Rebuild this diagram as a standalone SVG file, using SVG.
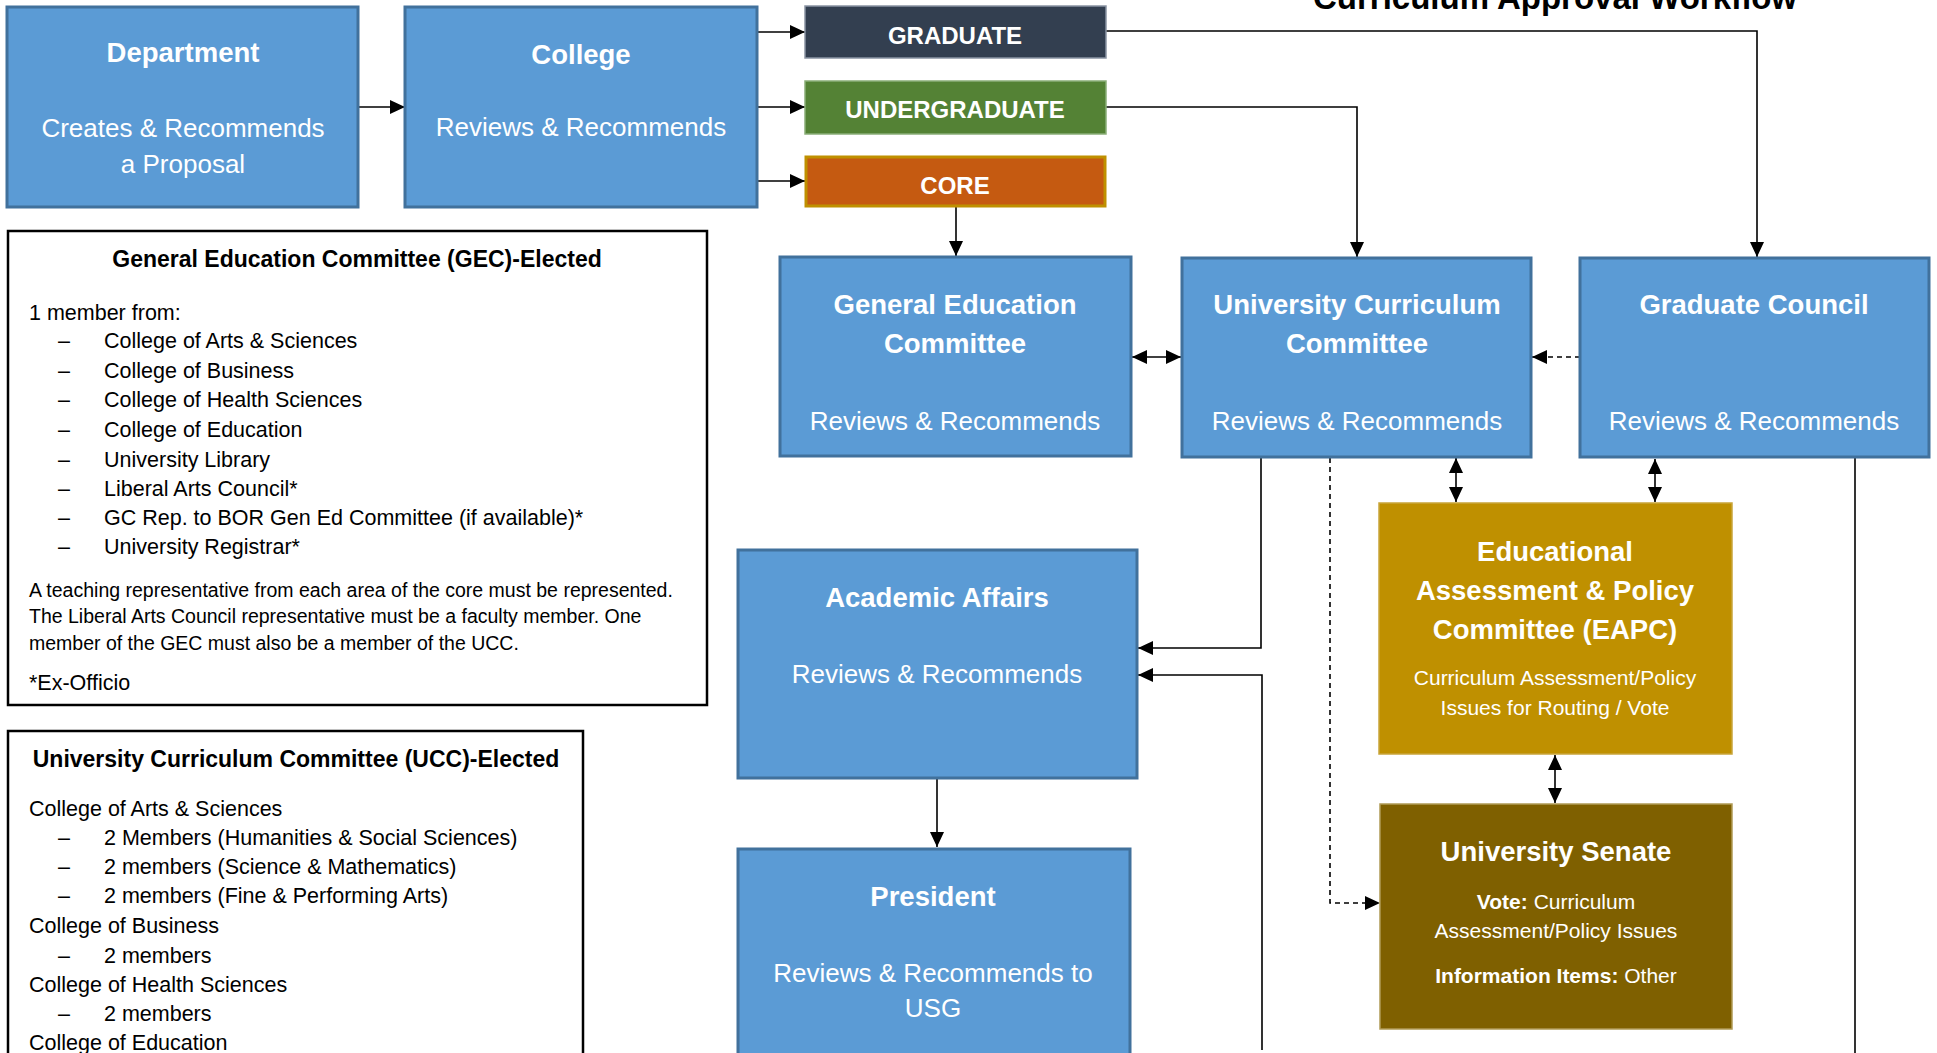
<svg xmlns="http://www.w3.org/2000/svg" width="1937" height="1053" viewBox="0 0 1937 1053">
<defs>
<marker id="ah" viewBox="0 0 15 14" refX="15" refY="7" markerWidth="15" markerHeight="14" markerUnits="userSpaceOnUse" orient="auto-start-reverse">
<path d="M0,0 L15,7 L0,14 z" fill="#000"/>
</marker>
<style>
text{font-family:'Liberation Sans',Arial,sans-serif}
.blue{fill:#5B9BD5;stroke:#41719C;stroke-width:3}
.hd{font-weight:bold;font-size:27.5px;fill:#fff;text-anchor:middle}
.bd{font-size:26px;fill:#fff;text-anchor:middle}
.sm{font-size:21px;fill:#fff;text-anchor:middle}
.tag{font-weight:bold;font-size:24px;fill:#fff;text-anchor:middle}
.txtbox{fill:#fff;stroke:#000;stroke-width:2.5}
.t{font-size:21.5px;fill:#000}
.tp{font-size:19.5px;fill:#000}
.tt{font-weight:bold;font-size:23px;fill:#000;text-anchor:middle}
.ln{fill:none;stroke:#000;stroke-width:1.6}
.dash{fill:none;stroke:#000;stroke-width:1.6;stroke-dasharray:5 4}
</style>
</defs>
<rect width="1937" height="1053" fill="#fff"/>

<text x="1555" y="9" style="font-weight:bold;font-size:33px;fill:#000;text-anchor:middle">Curriculum Approval Workflow</text>

<g id="connectors">
<line class="ln" x1="358" y1="107" x2="405" y2="107" marker-end="url(#ah)"/>
<line class="ln" x1="757" y1="32" x2="805" y2="32" marker-end="url(#ah)"/>
<line class="ln" x1="757" y1="107" x2="805" y2="107" marker-end="url(#ah)"/>
<line class="ln" x1="757" y1="181" x2="805" y2="181" marker-end="url(#ah)"/>
<polyline class="ln" points="1106,31 1757,31 1757,257" marker-end="url(#ah)"/>
<polyline class="ln" points="1106,107 1357,107 1357,257" marker-end="url(#ah)"/>
<line class="ln" x1="956" y1="207" x2="956" y2="256" marker-end="url(#ah)"/>
<line class="ln" x1="1132" y1="357" x2="1181" y2="357" marker-start="url(#ah)" marker-end="url(#ah)"/>
<line class="dash" x1="1580" y1="357" x2="1532" y2="357" marker-end="url(#ah)"/>
<polyline class="ln" points="1261,457 1261,648 1138,648" marker-end="url(#ah)"/>
<polyline class="ln" points="1262,1050 1262,675 1138,675" marker-end="url(#ah)"/>
<polyline class="dash" points="1330,458 1330,903 1380,903" marker-end="url(#ah)"/>
<line class="ln" x1="1456" y1="458" x2="1456" y2="502" marker-start="url(#ah)" marker-end="url(#ah)"/>
<line class="ln" x1="1655" y1="459" x2="1655" y2="502" marker-start="url(#ah)" marker-end="url(#ah)"/>
<line class="ln" x1="1555" y1="755" x2="1555" y2="803" marker-start="url(#ah)" marker-end="url(#ah)"/>
<line class="ln" x1="937" y1="776" x2="937" y2="847" marker-end="url(#ah)"/>
<line class="ln" x1="1855" y1="458" x2="1855" y2="1053"/>
</g>

<g id="department">
<rect class="blue" x="7" y="7" width="351" height="200"/>
<text class="hd" x="183" y="62">Department</text>
<text class="bd" x="183" y="137">Creates &amp; Recommends</text>
<text class="bd" x="183" y="173">a Proposal</text>
</g>

<g id="college">
<rect class="blue" x="405" y="7" width="352" height="200"/>
<text class="hd" x="581" y="64">College</text>
<text class="bd" x="581" y="136">Reviews &amp; Recommends</text>
</g>

<g id="graduate">
<rect x="805" y="6" width="301" height="52" fill="#333F50" stroke="#8A94A3" stroke-width="1.5"/>
<text class="tag" x="955" y="44">GRADUATE</text>
</g>
<g id="undergraduate">
<rect x="805" y="81" width="301" height="53" fill="#548235" stroke="#8AAE78" stroke-width="1.5"/>
<text class="tag" x="955" y="118">UNDERGRADUATE</text>
</g>
<g id="core">
<rect x="806" y="157" width="299" height="49" fill="#C55A11" stroke="#BF9000" stroke-width="3"/>
<text class="tag" x="955" y="194">CORE</text>
</g>

<g id="gec">
<rect class="blue" x="780" y="257" width="351" height="199"/>
<text class="hd" x="955" y="314">General Education</text>
<text class="hd" x="955" y="353">Committee</text>
<text class="bd" x="955" y="430">Reviews &amp; Recommends</text>
</g>

<g id="ucc">
<rect class="blue" x="1182" y="258" width="349" height="199"/>
<text class="hd" x="1357" y="314">University Curriculum</text>
<text class="hd" x="1357" y="353">Committee</text>
<text class="bd" x="1357" y="430">Reviews &amp; Recommends</text>
</g>

<g id="graduate-council">
<rect class="blue" x="1580" y="258" width="349" height="199"/>
<text class="hd" x="1754" y="314">Graduate Council</text>
<text class="bd" x="1754" y="430">Reviews &amp; Recommends</text>
</g>

<g id="eapc">
<rect x="1379" y="503" width="353" height="251" fill="#BF9000" stroke="#C9A53A" stroke-width="1.5"/>
<text class="hd" x="1555" y="561">Educational</text>
<text class="hd" x="1555" y="600">Assessment &amp; Policy</text>
<text class="hd" x="1555" y="639">Committee (EAPC)</text>
<text class="sm" x="1555" y="685">Curriculum Assessment/Policy</text>
<text class="sm" x="1555" y="715">Issues for Routing / Vote</text>
</g>

<g id="senate">
<rect x="1380" y="804" width="352" height="225" fill="#7F6000" stroke="#B09A55" stroke-width="1.5"/>
<text class="hd" x="1556" y="861">University Senate</text>
<text class="sm" x="1556" y="909"><tspan font-weight="bold">Vote:</tspan> Curriculum</text>
<text class="sm" x="1556" y="938">Assessment/Policy Issues</text>
<text class="sm" x="1556" y="983"><tspan font-weight="bold">Information Items:</tspan> Other</text>
</g>

<g id="academic-affairs">
<rect class="blue" x="738" y="550" width="399" height="228"/>
<text class="hd" x="937" y="607">Academic Affairs</text>
<text class="bd" x="937" y="683">Reviews &amp; Recommends</text>
</g>

<g id="president">
<rect class="blue" x="738" y="849" width="392" height="220"/>
<text class="hd" x="933" y="906">President</text>
<text class="bd" x="933" y="982">Reviews &amp; Recommends to</text>
<text class="bd" x="933" y="1017">USG</text>
</g>

<g id="gec-membership">
<rect class="txtbox" x="8" y="231" width="699" height="474"/>
<text class="tt" x="357" y="267">General Education Committee (GEC)-Elected</text>
<text class="t" x="29" y="320">1 member from:</text>
<text class="t" x="58" y="348">–</text><text class="t" x="104" y="348">College of Arts &amp; Sciences</text>
<text class="t" x="58" y="378">–</text><text class="t" x="104" y="378">College of Business</text>
<text class="t" x="58" y="407">–</text><text class="t" x="104" y="407">College of Health Sciences</text>
<text class="t" x="58" y="437">–</text><text class="t" x="104" y="437">College of Education</text>
<text class="t" x="58" y="467">–</text><text class="t" x="104" y="467">University Library</text>
<text class="t" x="58" y="496">–</text><text class="t" x="104" y="496">Liberal Arts Council*</text>
<text class="t" x="58" y="525">–</text><text class="t" x="104" y="525">GC Rep. to BOR Gen Ed Committee (if available)*</text>
<text class="t" x="58" y="554">–</text><text class="t" x="104" y="554">University Registrar*</text>
<text class="tp" x="29" y="597">A teaching representative from each area of the core must be represented.</text>
<text class="tp" x="29" y="623">The Liberal Arts Council representative must be a faculty member. One</text>
<text class="tp" x="29" y="650">member of the GEC must also be a member of the UCC.</text>
<text class="t" x="29" y="690">*Ex-Officio</text>
</g>

<g id="ucc-membership">
<rect class="txtbox" x="8" y="731" width="575" height="340"/>
<text class="tt" x="296" y="767">University Curriculum Committee (UCC)-Elected</text>
<text class="t" x="29" y="816">College of Arts &amp; Sciences</text>
<text class="t" x="58" y="845">–</text><text class="t" x="104" y="845">2 Members (Humanities &amp; Social Sciences)</text>
<text class="t" x="58" y="874">–</text><text class="t" x="104" y="874">2 members (Science &amp; Mathematics)</text>
<text class="t" x="58" y="903">–</text><text class="t" x="104" y="903">2 members (Fine &amp; Performing Arts)</text>
<text class="t" x="29" y="933">College of Business</text>
<text class="t" x="58" y="963">–</text><text class="t" x="104" y="963">2 members</text>
<text class="t" x="29" y="992">College of Health Sciences</text>
<text class="t" x="58" y="1021">–</text><text class="t" x="104" y="1021">2 members</text>
<text class="t" x="29" y="1050">College of Education</text>
</g>
</svg>
